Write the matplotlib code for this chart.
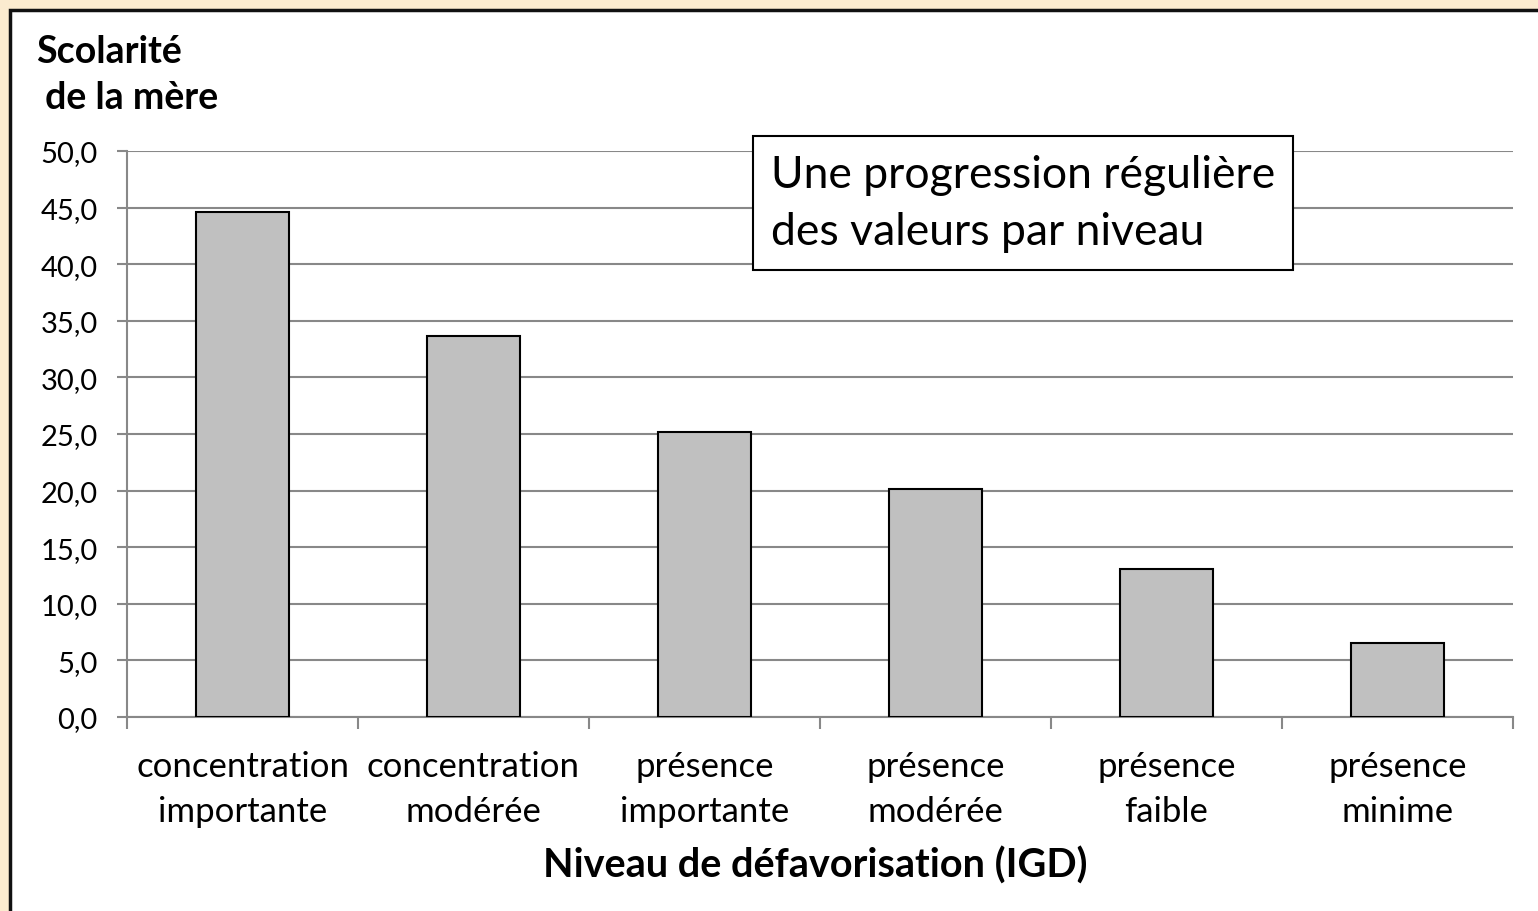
import matplotlib.pyplot as plt
from matplotlib.patches import Rectangle

plt.rcParams['font.family'] = ['Lato', 'DejaVu Sans']

categories = ['concentration\nimportante', 'concentration\nmodérée',
              'présence\nimportante', 'présence\nmodérée',
              'présence\nfaible', 'présence\nminime']
values = [44.6, 33.7, 25.2, 20.1, 13.1, 6.5]
yticks = [0, 5, 10, 15, 20, 25, 30, 35, 40, 45, 50]

fig = plt.figure(figsize=(15.38, 9.12), dpi=100)
fig.patch.set_facecolor('#FBEBCF')

# white frame with dark border
frame = Rectangle((10 / 1538, -0.01), 1.02, 1 - 11 / 912 + 0.01,
                  transform=fig.transFigure, facecolor='white',
                  edgecolor='#111111', linewidth=2.5, zorder=-5)
fig.patches.append(frame)

ax = fig.add_axes([127 / 1538, 1 - 718 / 912, (1513 - 127) / 1538,
                   (718 - 152) / 912])
ax.set_zorder(2)
ax.set_facecolor('none')

x = list(range(len(values)))
ax.bar(x, values, width=0.4, color='#C0C0C0', edgecolor='black',
       linewidth=1.5, zorder=3)

ax.set_xlim(-0.5, len(values) - 0.5)
ax.set_ylim(0, 50)
ax.set_yticks(yticks)
ax.set_yticklabels([('%.1f' % v).replace('.', ',') for v in yticks],
                   fontsize=21)
ax.yaxis.grid(True, color='#888888', linewidth=1.5, zorder=0)

ax.set_xticks(x)
ax.set_xticklabels(categories, fontsize=25, linespacing=1.5)
ax.set_xticks([i - 0.5 for i in range(len(values) + 1)], minor=True)
ax.tick_params(axis='x', which='major', length=0, pad=24)
ax.tick_params(axis='x', which='minor', length=8.6, width=1.5,
               color='#888888')
ax.tick_params(axis='y', length=7.2, width=1.5, color='#888888', pad=14)

for side in ['top', 'right']:
    ax.spines[side].set_visible(False)
for side in ['left', 'bottom']:
    ax.spines[side].set_color('#888888')
    ax.spines[side].set_linewidth(1.5)

fig.text(36 / 1538, 1 - 75 / 912, 'Scolarité\n de la mère', fontsize=27,
         fontweight='bold', va='center', ha='left', linespacing=1.45)
fig.text(815 / 1538, 1 - 866 / 912, 'Niveau de défavorisation (IGD)',
         fontsize=28.5, fontweight='bold', ha='center', va='center')

fig.text(771 / 1538, 1 - 204 / 912,
         'Une progression régulière\ndes valeurs par niveau',
         fontsize=32, ha='left', va='center', linespacing=1.5,
         bbox=dict(boxstyle='square,pad=0.4', facecolor='white',
                   edgecolor='black', linewidth=1.5), zorder=5)

fig.savefig('out.png', dpi=100, facecolor=fig.get_facecolor())
